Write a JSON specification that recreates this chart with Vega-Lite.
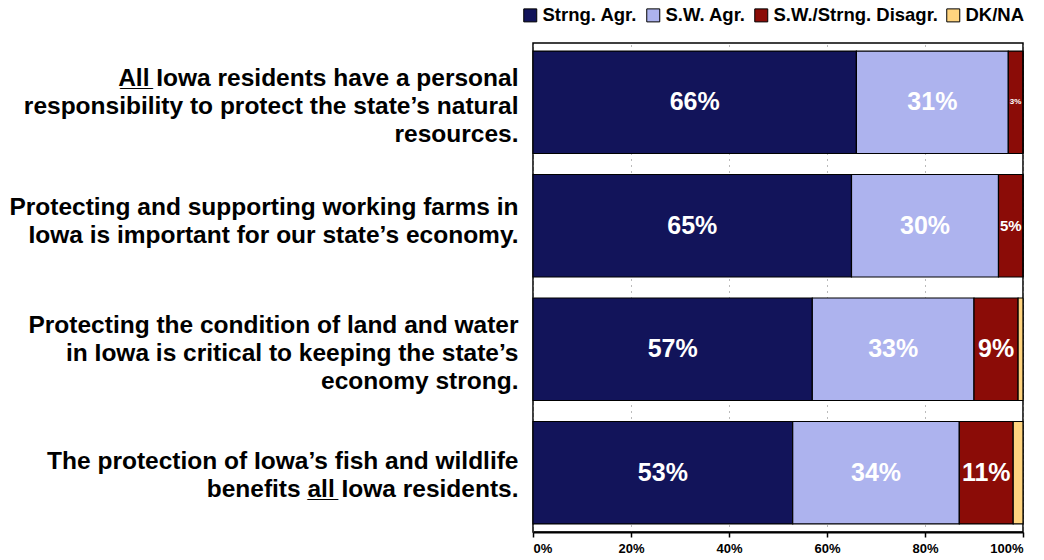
{
  "$schema": "https://vega.github.io/schema/vega-lite/v6.json",
  "width": 490,
  "height": 489,
  "autosize": {"type": "none"},
  "padding": {"left": 533, "top": 43, "right": 21, "bottom": 28},
  "background": "white",
  "config": {
    "view": {"stroke": "black", "strokeWidth": 1.5},
    "font": "Liberation Sans"
  },
  "data": {
    "values": [
      {"q": "A̲l̲l̲ Iowa residents have a personal|responsibility to protect the state’s natural|resources.", "resp": "Strng. Agr.", "o": 1, "value": 66},
      {"q": "A̲l̲l̲ Iowa residents have a personal|responsibility to protect the state’s natural|resources.", "resp": "S.W. Agr.", "o": 2, "value": 31},
      {"q": "A̲l̲l̲ Iowa residents have a personal|responsibility to protect the state’s natural|resources.", "resp": "S.W./Strng. Disagr.", "o": 3, "value": 3},
      {"q": "A̲l̲l̲ Iowa residents have a personal|responsibility to protect the state’s natural|resources.", "resp": "DK/NA", "o": 4, "value": 0},
      {"q": "Protecting and supporting working farms in|Iowa is important for our state’s economy.", "resp": "Strng. Agr.", "o": 1, "value": 65},
      {"q": "Protecting and supporting working farms in|Iowa is important for our state’s economy.", "resp": "S.W. Agr.", "o": 2, "value": 30},
      {"q": "Protecting and supporting working farms in|Iowa is important for our state’s economy.", "resp": "S.W./Strng. Disagr.", "o": 3, "value": 5},
      {"q": "Protecting and supporting working farms in|Iowa is important for our state’s economy.", "resp": "DK/NA", "o": 4, "value": 0},
      {"q": "Protecting the condition of land and water|in Iowa is critical to keeping the state’s|economy strong.", "resp": "Strng. Agr.", "o": 1, "value": 57},
      {"q": "Protecting the condition of land and water|in Iowa is critical to keeping the state’s|economy strong.", "resp": "S.W. Agr.", "o": 2, "value": 33},
      {"q": "Protecting the condition of land and water|in Iowa is critical to keeping the state’s|economy strong.", "resp": "S.W./Strng. Disagr.", "o": 3, "value": 9},
      {"q": "Protecting the condition of land and water|in Iowa is critical to keeping the state’s|economy strong.", "resp": "DK/NA", "o": 4, "value": 1},
      {"q": "The protection of Iowa’s fish and wildlife|benefits a̲l̲l̲ Iowa residents.", "resp": "Strng. Agr.", "o": 1, "value": 53},
      {"q": "The protection of Iowa’s fish and wildlife|benefits a̲l̲l̲ Iowa residents.", "resp": "S.W. Agr.", "o": 2, "value": 34},
      {"q": "The protection of Iowa’s fish and wildlife|benefits a̲l̲l̲ Iowa residents.", "resp": "S.W./Strng. Disagr.", "o": 3, "value": 11},
      {"q": "The protection of Iowa’s fish and wildlife|benefits a̲l̲l̲ Iowa residents.", "resp": "DK/NA", "o": 4, "value": 2}
    ]
  },
  "transform": [
    {"stack": "value", "groupby": ["q"], "sort": [{"field": "o", "order": "ascending"}], "as": ["v0", "v1"]},
    {"calculate": "(datum.v0 + datum.v1) / 2", "as": "mid"},
    {"calculate": "datum.value + '%'", "as": "lab"}
  ],
  "encoding": {
    "y": {
      "field": "q", "type": "nominal", "sort": null,
      "scale": {"paddingInner": 0.17, "paddingOuter": 0.065},
      "axis": {
        "title": null, "domain": false, "ticks": false,
        "labelExpr": "split(datum.value, '|')",
        "labelFont": "Liberation Sans", "labelFontWeight": "bold", "labelFontSize": 24.5,
        "labelColor": "black", "labelLineHeight": 28, "labelPadding": 15, "labelLimit": 600,
        "labelAlign": "right", "labelBaseline": "middle",
        "labelOffset": {
          "condition": [
            {"test": "indexof(datum.value, 'farms') >= 0", "value": -18},
            {"test": "length(split(datum.value, '|')) == 3", "value": -23}
          ],
          "value": -11
        }
      }
    }
  },
  "layer": [
    {
      "mark": {"type": "bar", "stroke": "black", "strokeWidth": 1.2},
      "encoding": {
        "x": {
          "field": "v0", "type": "quantitative",
          "scale": {"domain": [0, 100], "nice": false},
          "axis": {
            "title": null, "values": [0, 20, 40, 60, 80, 100],
            "labelExpr": "datum.value + '%'",
            "labelFont": "Liberation Sans", "labelFontWeight": "bold", "labelFontSize": 13,
            "labelColor": "black", "labelPadding": 5,
            "domainColor": "black", "domainWidth": 2,
            "tickColor": "black", "tickSize": 5, "tickWidth": 1.5,
            "grid": true, "gridColor": "#777", "gridDash": [1, 5], "gridWidth": 1
          }
        },
        "x2": {"field": "v1"},
        "color": {
          "field": "resp", "type": "nominal",
          "scale": {
            "domain": ["Strng. Agr.", "S.W. Agr.", "S.W./Strng. Disagr.", "DK/NA"],
            "range": ["#12145A", "#ADB3EE", "#8B0C07", "#FFD47F"]
          },
          "legend": {
            "title": null, "orient": "none", "direction": "horizontal",
            "legendX": -12, "legendY": -37,
            "symbolType": "square", "symbolSize": 169, "symbolStrokeColor": "black",
            "symbolStrokeWidth": 1, "symbolOpacity": 1,
            "labelFont": "Liberation Sans", "labelFontWeight": "bold", "labelFontSize": 18.5,
            "labelColor": "black", "labelLimit": 300, "columnPadding": 6, "labelOffset": 3
          }
        }
      }
    },
    {
      "transform": [{"filter": "datum.resp != 'DK/NA'"}],
      "mark": {"type": "text", "color": "white", "fontWeight": "bold", "font": "Liberation Sans", "baseline": "middle", "align": "center"},
      "encoding": {
        "x": {"field": "mid", "type": "quantitative"},
        "text": {"field": "lab", "type": "nominal"},
        "size": {
          "field": "value", "type": "quantitative",
          "scale": {"type": "threshold", "domain": [4, 7], "range": [8, 15, 25]},
          "legend": null
        }
      }
    }
  ]
}
